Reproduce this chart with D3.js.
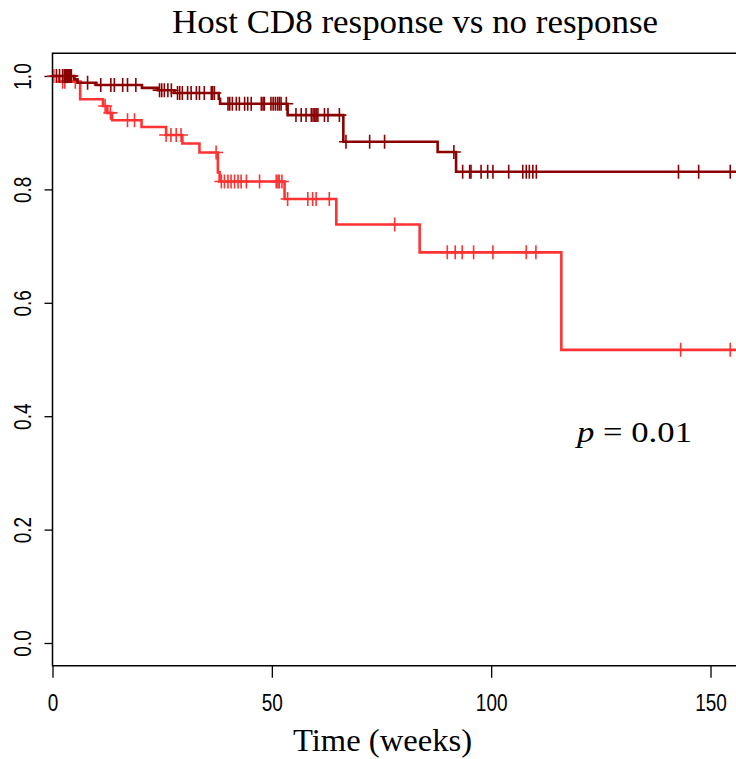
<!DOCTYPE html>
<html>
<head>
<meta charset="utf-8">
<script src="https://cdn.jsdelivr.net/npm/d3@7"></script>
<style>
  html, body { margin: 0; padding: 0; background: #fff; }
  svg { display: block; }
</style>
</head>
<body>
<svg id="chart" width="736" height="759"></svg>
<script>
// Kaplan-Meier survival curves: host CD8 response vs no response

// Group with a host CD8 response
const respEventTimes = [4.9, 5.7, 10.0, 20.4, 24.0, 27.8, 37.9, 38.2, 53.6, 66.3, 87.8, 92.0];
const respSurvival   = [0.994, 0.988, 0.984, 0.979, 0.975, 0.970, 0.960, 0.951, 0.931, 0.884, 0.866, 0.831];
const respCensored   = [0.9, 1.6, 2.3, 2.7, 3.0, 3.2, 3.4, 3.6, 3.9, 4.1, 4.3,
  8.0, 11.0, 13.3, 14.1, 16.0, 17.1, 19.0,
  24.4, 24.9, 25.5, 26.3, 27.1,
  28.5, 29.0, 29.6, 30.8, 31.6, 32.8, 33.5, 34.6, 36.2, 36.5, 36.9,
  40.0, 40.4, 41.0, 41.9, 42.6, 43.8, 44.5, 45.3, 47.6, 48.0, 48.3,
  49.8, 50.3, 50.8, 51.3, 51.7, 52.1, 53.3,
  55.5, 56.7, 57.8, 59.0, 59.4, 59.8, 60.1, 60.5, 62.0, 62.8, 65.4,
  66.9, 72.3, 75.7, 91.5,
  93.5, 95.1, 95.4, 97.7, 99.2, 100.4, 104.0, 107.2, 108.0, 108.7, 109.5, 110.3,
  142.7, 147.3, 154.5];

// Group with no response
const noRespEventTimes = [1.5, 6.3, 11.5, 12.5, 13.6, 20.3, 25.9, 29.6, 33.5, 37.7, 38.1, 52.9, 64.7, 83.7, 116.0];
const noRespSurvival   = [0.990, 0.959, 0.947, 0.935, 0.922, 0.910, 0.896, 0.881, 0.865, 0.830, 0.814, 0.783, 0.738, 0.689, 0.517];
const noRespCensored   = [0.3, 2.3, 2.8, 5.2,
  12.0, 13.2, 17.1, 18.7,
  25.9, 27.0, 28.2, 29.3,
  37.3, 38.5, 39.2, 40.0, 40.7, 41.5, 42.3, 43.0, 44.2, 47.2, 51.0, 51.4, 51.7, 52.3,
  53.6, 58.2, 59.3, 60.1, 63.1,
  78.0, 90.0, 91.8, 93.4, 96.0, 100.4, 108.0, 110.2,
  143.2, 154.5];

const xTicks = [0, 50, 100, 150];
const yTicks = [0, 0.2, 0.4, 0.6, 0.8, 1.0];
const titleText = "Host CD8 response vs no response";
const xLabel = "Time (weeks)";

const lastTime = 162;

const svg = d3.select("#chart");

const x = d3.scaleLinear().domain([0, 150]).range([52.5, 710.5]);
const y = d3.scaleLinear().domain([0, 1]).range([643, 76]);

const boxTop = y(1.04), boxBottom = y(-0.04);
const tickFont = "'Liberation Sans Narrow', 'Liberation Sans', Arial, sans-serif";

// clip for the curves
svg.append("defs").append("clipPath").attr("id", "plotClip")
  .append("rect").attr("x", x(0)).attr("y", boxTop)
  .attr("width", 800).attr("height", boxBottom - boxTop);

// Y axis (labels rotated, as in R's default)
const yAxis = svg.append("g")
  .attr("transform", `translate(${x(0)},0)`)
  .call(d3.axisLeft(y).tickValues(yTicks).tickFormat(d3.format(".1f")).tickSize(8).tickSizeOuter(0));
yAxis.select(".domain").remove();
yAxis.selectAll(".tick line").attr("stroke", "#000").attr("stroke-width", 1.3);
yAxis.selectAll(".tick text")
  .attr("x", 0).attr("dy", 0)
  .attr("transform", "translate(-29,0) rotate(-90) scale(1,1.25)")
  .attr("text-anchor", "middle")
  .attr("dominant-baseline", "central")
  .style("font-family", tickFont)
  .style("font-size", "19px")
  .attr("fill", "#000");

// X axis
const xAxis = svg.append("g")
  .attr("transform", `translate(0,${boxBottom})`)
  .call(d3.axisBottom(x).tickValues(xTicks).tickFormat(d3.format("d")).tickSize(12).tickSizeOuter(0));
xAxis.select(".domain").remove();
xAxis.selectAll(".tick line").attr("stroke", "#000").attr("stroke-width", 1.3);
xAxis.selectAll(".tick text")
  .attr("y", 0).attr("dy", 0)
  .attr("transform", "translate(0,45) scale(1,1.25)")
  .style("font-family", tickFont)
  .style("font-size", "19px")
  .attr("fill", "#000");

// plot box (right edge lies beyond the page)
svg.append("path")
  .attr("d", `M${x(0) + 760},${boxTop} H${x(0)} V${boxBottom} H${x(0) + 760}`)
  .attr("fill", "none").attr("stroke", "#000").attr("stroke-width", 1.5);

function stepPoints(times, surv) {
  const pts = [[0, 1]];
  times.forEach((t, i) => pts.push([t, surv[i]]));
  pts.push([lastTime, surv[surv.length - 1]]);
  return pts;
}
function survAt(times, surv, t) {
  let s = 1;
  for (let i = 0; i < times.length; i++) if (times[i] <= t) s = surv[i];
  return s;
}

const line = d3.line().x(d => x(d[0])).y(d => y(d[1])).curve(d3.curveStepAfter);

const groups = [
  { times: noRespEventTimes, surv: noRespSurvival, cens: noRespCensored, color: "#FF3333" },
  { times: respEventTimes, surv: respSurvival, cens: respCensored, color: "#8B0000" }
];

const half = 7;
groups.forEach(g => {
  svg.append("path")
    .attr("clip-path", "url(#plotClip)")
    .datum(stepPoints(g.times, g.surv))
    .attr("d", line)
    .attr("fill", "none")
    .attr("stroke", g.color)
    .attr("stroke-width", 2.6);
  // censoring marks
  svg.append("g").selectAll("path")
    .data(g.cens)
    .join("path")
    .attr("d", t => {
      const cx = x(t), cy = y(survAt(g.times, g.surv, t));
      return `M${cx - half},${cy}H${cx + half}M${cx},${cy - half}V${cy + half}`;
    })
    .attr("stroke", g.color)
    .attr("stroke-width", 1.6)
    .attr("fill", "none");
});

// fit a text element to a given width
function fitWidth(sel, w) {
  sel.attr("textLength", w).attr("lengthAdjust", "spacingAndGlyphs");
}

// title
const title = svg.append("text")
  .attr("x", 172).attr("y", 33)
  .style("font-family", "'Liberation Serif', 'DejaVu Serif', serif")
  .style("font-size", "33px")
  .attr("fill", "#000")
  .text(titleText);
fitWidth(title, 486);

// x axis label
const xl = svg.append("text")
  .attr("x", 293).attr("y", 751)
  .style("font-family", "'Liberation Serif', 'DejaVu Serif', serif")
  .style("font-size", "31px")
  .attr("fill", "#000")
  .text(xLabel);
fitWidth(xl, 179);

// p-value annotation
const pv = svg.append("text")
  .attr("x", 577).attr("y", 442)
  .style("font-family", "'Liberation Serif', 'DejaVu Serif', serif")
  .style("font-size", "29px")
  .attr("fill", "#000");
pv.append("tspan").style("font-style", "italic").text("p");
pv.append("tspan").text(" = 0.01");
fitWidth(pv, 115);
</script>
</body>
</html>
